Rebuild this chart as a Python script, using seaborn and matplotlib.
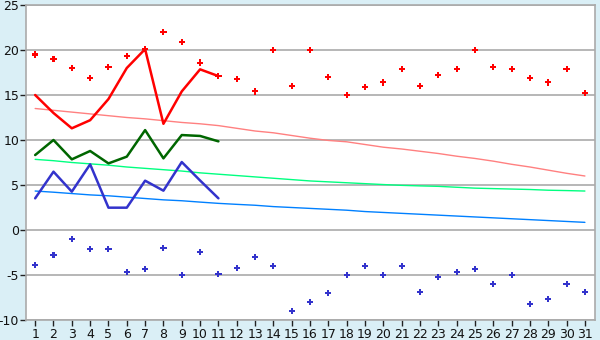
import matplotlib
matplotlib.use("Agg")
import matplotlib.pyplot as plt
import seaborn as sns
import pandas as pd
import numpy as np

days = list(range(1, 32))

max_points = [19.5, 19.0, 18.0, 16.85, 18.1, 19.3, 20.1, 22.0, 20.85, 18.6, 17.1,
              16.75, 15.4, 20.0, 16.0, 20.0, 17.0, 15.0, 15.85, 16.4, 17.85,
              16.0, 17.2, 17.85, 20.0, 18.07, 17.85, 16.85, 16.4, 17.85, 15.2]
min_points = [-3.93, -2.8, -1.04, -2.15, -2.15, -4.7, -4.37, -2.04, -5.04, -2.48, -4.93,
              -4.26, -3.04, -4.04, -9.04, -8.04, -7.04, -5.04, -4.04, -5.04, -4.04,
              -6.93, -5.26, -4.7, -4.37, -6.04, -5.04, -8.26, -7.7, -6.04, -6.93]

line_days = list(range(1, 12))
max_line = [15.0, 13.0, 11.3, 12.2, 14.55, 18.0, 20.1, 11.8, 15.4, 17.85, 17.1]
mean_line = [8.33, 10.0, 7.85, 8.78, 7.4, 8.15, 11.1, 7.96, 10.55, 10.45, 9.85]
min_line = [3.52, 6.48, 4.26, 7.3, 2.48, 2.48, 5.48, 4.37, 7.55, 5.5, 3.52]

norm_max = [13.5, 13.3, 13.1, 12.9, 12.7, 12.5, 12.35, 12.15, 11.95, 11.8, 11.6,
            11.3, 11.0, 10.8, 10.5, 10.2, 9.95, 9.8, 9.5, 9.2, 9.0,
            8.75, 8.5, 8.2, 7.95, 7.65, 7.3, 7.0, 6.65, 6.3, 6.0]
norm_mean = [7.85, 7.7, 7.5, 7.35, 7.2, 7.0, 6.85, 6.7, 6.55, 6.35, 6.2,
             6.05, 5.9, 5.75, 5.6, 5.45, 5.35, 5.25, 5.15, 5.05, 4.96,
             4.9, 4.85, 4.75, 4.65, 4.6, 4.55, 4.5, 4.42, 4.38, 4.33]
norm_min = [4.33, 4.2, 4.05, 3.9, 3.8, 3.65, 3.5, 3.35, 3.25, 3.1, 2.96,
            2.85, 2.75, 2.6, 2.5, 2.4, 2.3, 2.2, 2.05, 1.95, 1.85,
            1.75, 1.65, 1.55, 1.45, 1.35, 1.25, 1.15, 1.05, 0.95, 0.85]

y_ticks = [-10, -5, 0, 5, 10, 15, 20, 25]
y_tick_labels = ["-10", "-5", "0", "5", "10", "15", "20", "25"]

sns.set_style("white")
plt.rcParams['font.family'] = ['DejaVu Sans']

bg = "#daeff6"
fig = plt.figure(figsize=(6.0, 3.4), dpi=100, facecolor=bg)
ax = fig.add_axes([26/600, 1 - 320/340, (595-26)/600, (320-5)/340])
ax.set_facecolor("white")

full = pd.DataFrame({"day": days, "nmax": norm_max, "nmean": norm_mean, "nmin": norm_min,
                     "pmax": max_points, "pmin": min_points})
part = pd.DataFrame({"day": line_days, "max": max_line, "mean": mean_line, "min": min_line})

for y in y_ticks:
    ax.axhline(y, color="#aaaaaa", lw=1.2, zorder=0)

sns.lineplot(data=full, x="day", y="nmax", ax=ax, color="#ff8080", lw=1.0)
sns.lineplot(data=full, x="day", y="nmean", ax=ax, color="#00ff80", lw=1.0)
sns.lineplot(data=full, x="day", y="nmin", ax=ax, color="#0080ff", lw=1.0)

sns.lineplot(data=part, x="day", y="max", ax=ax, color="#ff0000", lw=1.8)
sns.lineplot(data=part, x="day", y="mean", ax=ax, color="#006600", lw=1.8)
sns.lineplot(data=part, x="day", y="min", ax=ax, color="#3333cc", lw=1.8)

sns.scatterplot(data=full, x="day", y="pmax", ax=ax, color="#ff0000", marker="P", s=20,
                edgecolor="none", zorder=5)
sns.scatterplot(data=full, x="day", y="pmin", ax=ax, color="#3333cc", marker="P", s=20,
                edgecolor="none", zorder=5)

ax.set_xlim(0.5, 31.55)
ax.set_ylim(-10, 25)
ax.set_xticks(days)
ax.set_xticklabels([str(d) for d in days])
ax.set_yticks(y_ticks)
ax.set_yticklabels(y_tick_labels)
ax.set_xlabel("")
ax.set_ylabel("")
for s in ax.spines.values():
    s.set_color("#aaaaaa")
    s.set_linewidth(1.2)
ax.tick_params(axis="both", labelsize=9, color="#222222", length=4, width=1,
               labelcolor="#111111", pad=2, direction="out", bottom=True, left=True)
ax.tick_params(axis="y", pad=1)
if ax.get_legend():
    ax.get_legend().remove()

fig.savefig("out.png", dpi=100, facecolor=bg)
